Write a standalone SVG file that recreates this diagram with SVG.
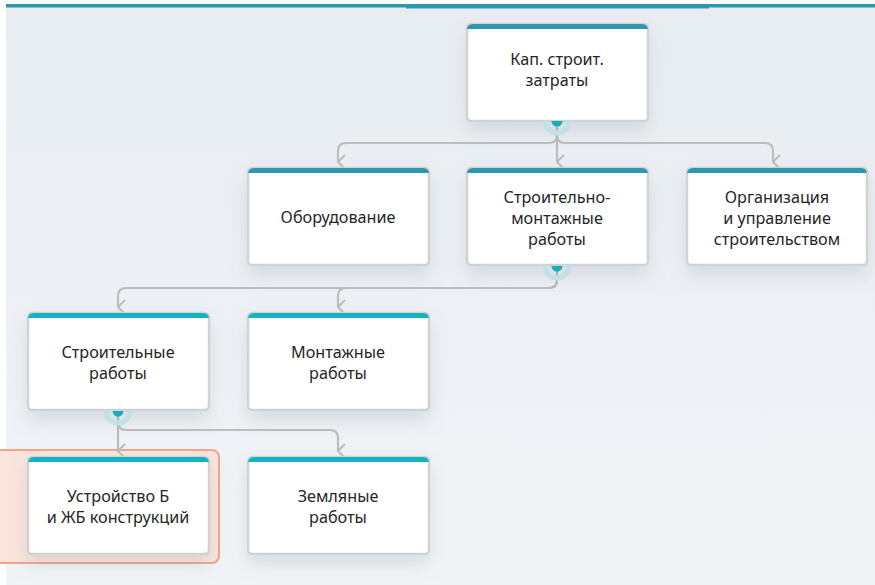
<svg xmlns="http://www.w3.org/2000/svg" width="875" height="585" viewBox="0 0 875 585">
<defs>
<filter id="sh" x="-20%" y="-20%" width="140%" height="160%">
<feDropShadow dx="0" dy="10" stdDeviation="9" flood-color="#6b7a88" flood-opacity="0.18"/>
</filter>
<linearGradient id="bg" x1="0" y1="0" x2="0" y2="1">
<stop offset="0" stop-color="#e8edf2"/>
<stop offset="1" stop-color="#f1f4f7"/>
</linearGradient>
<marker id="arr" viewBox="0 0 18 11" refX="9" refY="10" markerWidth="18" markerHeight="11" markerUnits="userSpaceOnUse" orient="auto-start-reverse">
<path d="M2,3 L9,10 L16,3" fill="none" stroke="#bdbdbd" stroke-width="2.2"/>
</marker>
</defs>
<style>
.box{fill:#ffffff;stroke:#d2d2d2;stroke-width:2.5;filter:url(#sh)}
.hd1{fill:#2e97b0}
.hd2{fill:#12b4c2}
.t{font-family:"Noto Sans","Open Sans",sans-serif;font-size:16.2px;fill:#262626;text-anchor:middle}
.c{fill:none;stroke:#bdbdbd;stroke-width:2.2}
.ring{fill:none;stroke:#c0e1e5;stroke-width:5}
.dot{fill:#14aebd}
</style>
<rect x="0" y="0" width="875" height="585" fill="#ffffff"/>
<rect x="6" y="4" width="869" height="581" fill="url(#bg)"/>
<rect x="6" y="4" width="869" height="3.5" fill="#2e97b0"/>
<rect x="406" y="7" width="303" height="1.5" fill="#2e97b0"/>

<g id="highlight">
<rect x="-10" y="450" width="229" height="113" rx="7" fill="#fae5de" stroke="#f3a58c" stroke-width="2"/>
</g>

<g id="connectors">
<path class="c" d="M557,121 V135 Q557,143 549,143 H346 Q338,143 338,151 V162" marker-end="url(#arr)"/>
<path class="c" d="M557,121 V162" marker-end="url(#arr)"/>
<path class="c" d="M557,121 V135 Q557,143 565,143 H765 Q773,143 773,151 V162" marker-end="url(#arr)"/>
<path class="c" d="M557,266 V280 Q557,288 549,288 H126 Q118,288 118,296 V307" marker-end="url(#arr)"/>
<path class="c" d="M557,266 V280 Q557,288 549,288 H346 Q338,288 338,296 V307" marker-end="url(#arr)"/>
<path class="c" d="M118,411 V451" marker-end="url(#arr)"/>
<path class="c" d="M118,411 V422 Q118,430 126,430 H330 Q338,430 338,438 V451" marker-end="url(#arr)"/>
</g>

<g id="n-kap">
<rect class="box" x="467" y="24" width="181" height="97" rx="4"/>
<path class="hd1" d="M467,30 Q467,24 473,24 H642 Q648,24 648,30 V29 H467 Z"/>
<text class="t" x="557" y="65">Кап. строит.</text>
<text class="t" x="557" y="86">затраты</text>
<path class="ring" d="M545,121 A12,12 0 0 0 569,121"/>
<path class="dot" d="M551.5,121 A5.5,5.5 0 0 0 562.5,121 Z"/>
</g>

<g id="n-equip">
<rect class="box" x="248" y="168" width="181" height="97" rx="4"/>
<path class="hd1" d="M248,174 Q248,168 254,168 H423 Q429,168 429,174 V173 H248 Z"/>
<text class="t" x="338" y="223">Оборудование</text>
</g>

<g id="n-smr">
<rect class="box" x="467" y="168" width="181" height="97" rx="4"/>
<path class="hd1" d="M467,174 Q467,168 473,168 H642 Q648,168 648,174 V173 H467 Z"/>
<text class="t" x="557" y="203">Строительно-</text>
<text class="t" x="557" y="224">монтажные</text>
<text class="t" x="557" y="245">работы</text>
<path class="ring" d="M545,266 A12,12 0 0 0 569,266"/>
<path class="dot" d="M551.5,266 A5.5,5.5 0 0 0 562.5,266 Z"/>
</g>

<g id="n-org">
<rect class="box" x="687" y="168" width="180" height="97" rx="4"/>
<path class="hd1" d="M687,174 Q687,168 693,168 H861 Q867,168 867,174 V173 H687 Z"/>
<text class="t" x="777" y="203">Организация</text>
<text class="t" x="777" y="224">и управление</text>
<text class="t" x="777" y="245">строительством</text>
</g>

<g id="n-build">
<rect class="box" x="28" y="313" width="181" height="97" rx="4"/>
<path class="hd2" d="M28,319 Q28,313 34,313 H203 Q209,313 209,319 V318 H28 Z"/>
<text class="t" x="118" y="358">Строительные</text>
<text class="t" x="118" y="379">работы</text>
<path class="ring" d="M106,411 A12,12 0 0 0 130,411"/>
<path class="dot" d="M112.5,411 A5.5,5.5 0 0 0 123.5,411 Z"/>
</g>

<g id="n-mont">
<rect class="box" x="248" y="313" width="181" height="97" rx="4"/>
<path class="hd2" d="M248,319 Q248,313 254,313 H423 Q429,313 429,319 V318 H248 Z"/>
<text class="t" x="338" y="358">Монтажные</text>
<text class="t" x="338" y="379">работы</text>
</g>

<g id="n-rc">
<rect class="box" x="28" y="457" width="181" height="97" rx="4"/>
<path class="hd2" d="M28,463 Q28,457 34,457 H203 Q209,457 209,463 V462 H28 Z"/>
<text class="t" x="118" y="502">Устройство Б</text>
<text class="t" x="118" y="523">и ЖБ конструкций</text>
</g>

<g id="n-earth">
<rect class="box" x="248" y="457" width="181" height="97" rx="4"/>
<path class="hd2" d="M248,463 Q248,457 254,457 H423 Q429,457 429,463 V462 H248 Z"/>
<text class="t" x="338" y="502">Земляные</text>
<text class="t" x="338" y="523">работы</text>
</g>
</svg>
